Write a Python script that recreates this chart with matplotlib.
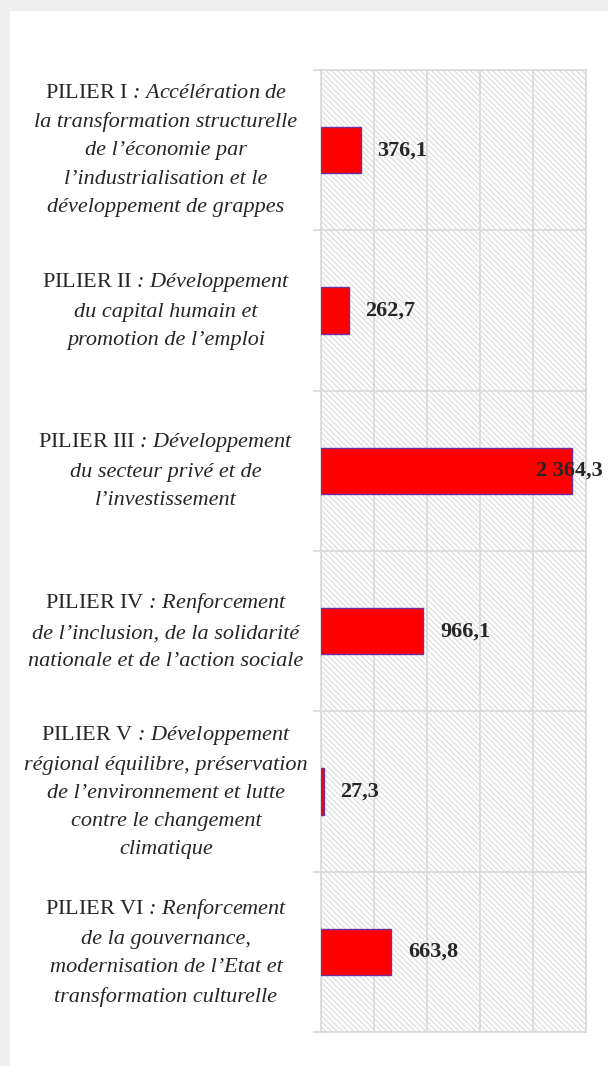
import matplotlib.pyplot as plt
from matplotlib.transforms import blended_transform_factory

# données
piliers = [
    r"$\mathrm{PILIER\ I}$ : Accélération de" + "\nla transformation structurelle\nde l’économie par\nl’industrialisation et le\ndéveloppement de grappes",
    r"$\mathrm{PILIER\ II}$ : Développement" + "\ndu capital humain et\npromotion de l’emploi",
    r"$\mathrm{PILIER\ III}$ : Développement" + "\ndu secteur privé et de\nl’investissement",
    r"$\mathrm{PILIER\ IV}$ : Renforcement" + "\nde l’inclusion, de la solidarité\nnationale et de l’action sociale",
    r"$\mathrm{PILIER\ V}$ : Développement" + "\nrégional équilibre, préservation\nde l’environnement et lutte\ncontre le changement\nclimatique",
    r"$\mathrm{PILIER\ VI}$ : Renforcement" + "\nde la gouvernance,\nmodernisation de l’Etat et\ntransformation culturelle",
]
montants = [376.1, 262.7, 2364.3, 966.1, 27.3, 663.8]
x_ticks = [0, 500, 1000, 1500, 2000, 2500]

plt.rcParams['mathtext.fontset'] = 'custom'
plt.rcParams['mathtext.rm'] = 'Liberation Serif'
plt.rcParams['mathtext.it'] = 'Liberation Serif:italic'
plt.rcParams['hatch.linewidth'] = 0.8

def fmt(v):
    s = f"{v:,.1f}".replace(",", " ").replace(".", ",")
    return s

fig = plt.figure(figsize=(6.08, 10.66), dpi=100, facecolor='#eeeeee')
# fond blanc du graphique
fig.patches.append(plt.Rectangle((10/608, 0), 1, 1 - 11/1066, transform=fig.transFigure,
                                 facecolor='white', edgecolor='none', zorder=-5))

ax = fig.add_axes([321/608, 1 - 1032/1066, 265/608, 962/1066])
ax.set_zorder(2)
ax.set_facecolor('white')
# hachures du fond de la zone de tracé
ax.add_patch(plt.Rectangle((0, 0), 1, 1, transform=ax.transAxes, facecolor='white',
                           edgecolor='#dadada', linewidth=0, hatch='\\\\\\\\\\\\', zorder=0))

y = list(range(len(piliers)))
ax.barh(y, montants, height=0.29, color='#ff0000', edgecolor='#7030a0', linewidth=1.0, zorder=3)

ax.set_xlim(0, 2500)
ax.set_ylim(len(piliers) - 0.5, -0.5)
ax.set_xticks(x_ticks)
ax.grid(axis='x', color='#d9d9d9', linewidth=1.2, zorder=1)
ax.set_axisbelow(True)
for b in [i - 0.5 for i in range(len(piliers) + 1)]:
    ax.axhline(b, color='#d9d9d9', linewidth=1.2, zorder=1)
ax.set_yticks([i - 0.5 for i in range(len(piliers) + 1)])
ax.set_yticklabels([])
ax.tick_params(axis='y', length=6, width=1.2, color='#d9d9d9')
ax.tick_params(axis='x', length=0, labelbottom=False)
for s in ax.spines.values():
    s.set_color('#d9d9d9')
    s.set_linewidth(1.2)

# étiquettes des catégories
tr = blended_transform_factory(fig.transFigure, ax.transData)
for i, lab in enumerate(piliers):
    ax.text(166/608, i, lab, transform=tr, ha='center', va='center', multialignment='center',
            family='Liberation Serif', style='italic', fontsize=16, color='#262626',
            linespacing=1.65)

# valeurs
for i, v in enumerate(montants):
    off = -26 if v > 2000 else 12
    ax.annotate(fmt(v), (v, i), xytext=(off, 0), textcoords='offset points', ha='left',
                va='center', family='Liberation Serif', fontweight='bold', fontsize=16,
                color='#262626', zorder=4, annotation_clip=False)

fig.savefig('out.png', dpi=100, facecolor=fig.get_facecolor())
